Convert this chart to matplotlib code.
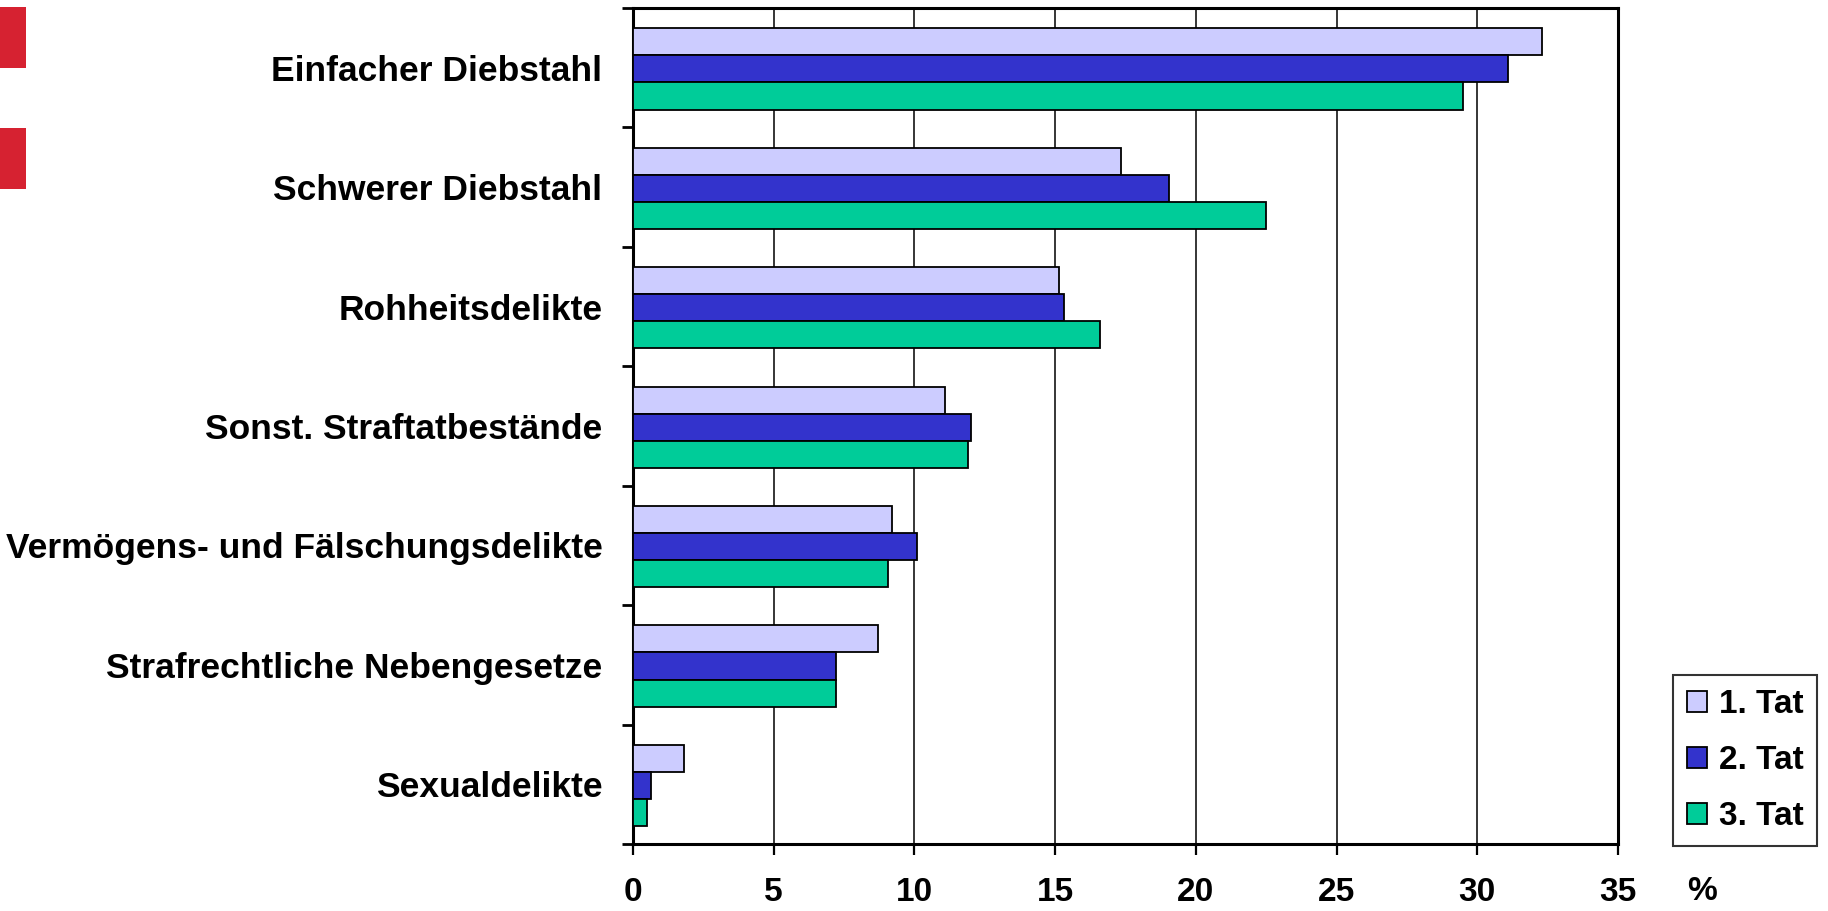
import matplotlib
matplotlib.use("Agg")
import matplotlib.pyplot as plt
from matplotlib.patches import Rectangle, Patch
import numpy as np

categories = [
    "Einfacher Diebstahl",
    "Schwerer Diebstahl",
    "Rohheitsdelikte",
    "Sonst. Straftatbestände",
    "Vermögens- und Fälschungsdelikte",
    "Strafrechtliche Nebengesetze",
    "Sexualdelikte",
]
series_names = ["1. Tat", "2. Tat", "3. Tat"]
tat1 = [32.3, 17.35, 15.15, 11.1, 9.2, 8.7, 1.8]
tat2 = [31.1, 19.05, 15.3, 12.0, 10.1, 7.2, 0.65]
tat3 = [29.5, 22.5, 16.6, 11.9, 9.05, 7.2, 0.5]
x_ticks = [0, 5, 10, 15, 20, 25, 30, 35]

colors = ["#CCCCFF", "#3333CC", "#00CC99"]
font = ["Liberation Sans", "DejaVu Sans"]
plt.rcParams["font.family"] = font
plt.rcParams["font.weight"] = "bold"

W, H = 1828, 911
fig = plt.figure(figsize=(W / 100, H / 100), dpi=100)
ax = fig.add_axes([633 / W, (H - 844) / H, (1618 - 633) / W, (844 - 8) / H])

y = np.arange(len(categories))
bh = 0.227
for i, vals in enumerate([tat1, tat2, tat3]):
    ax.barh(y + (i - 1) * bh + 0.01, vals, height=bh, color=colors[i],
            edgecolor="black", linewidth=1.3, zorder=3, label=series_names[i])

ax.set_xlim(0, 35)
ax.set_ylim(len(categories) - 0.5, -0.5)

# vertical grid
for xv in x_ticks[1:-1]:
    ax.axvline(xv, color="black", linewidth=1.1, zorder=1)

for s in ax.spines.values():
    s.set_linewidth(2.2)
    s.set_color("black")

ax.set_xticks(x_ticks)
ax.set_xticklabels([str(v) for v in x_ticks], fontsize=24, fontweight="bold")
ax.tick_params(axis="x", direction="out", length=8, width=1.6, pad=16)

ax.set_yticks(y)
ax.set_yticklabels(categories, fontsize=25.5, fontweight="bold")
ax.set_yticks(np.arange(-0.5, len(categories)), minor=True)
ax.tick_params(axis="y", which="major", length=0, pad=22)
ax.tick_params(axis="y", which="minor", direction="out", length=8, width=2)

fig.text(1702 / W, 1 - 892 / H, "%", fontsize=24, fontweight="bold",
         ha="center", va="center")

# red markers on the left edge
for (yt, yb) in [(7, 68), (128, 189)]:
    fig.patches.append(Rectangle((0, 1 - yb / H), 26 / W, (yb - yt) / H,
                                 transform=fig.transFigure,
                                 facecolor="#D62231", edgecolor="none"))

handles = [Patch(facecolor=c, edgecolor="black", linewidth=1.3) for c in colors]
leg = fig.legend(handles, series_names, loc="lower left",
                 bbox_to_anchor=(1673 / W, (H - 846) / H),
                 frameon=True, fancybox=False, borderaxespad=0,
                 handlelength=0.6, handleheight=0.6, handletextpad=0.35,
                 labelspacing=0.75, borderpad=0.42,
                 prop={"weight": "bold", "size": 24})
leg.get_frame().set_edgecolor("black")
leg.get_frame().set_linewidth(1.5)

fig.savefig("out.png", dpi=100)
